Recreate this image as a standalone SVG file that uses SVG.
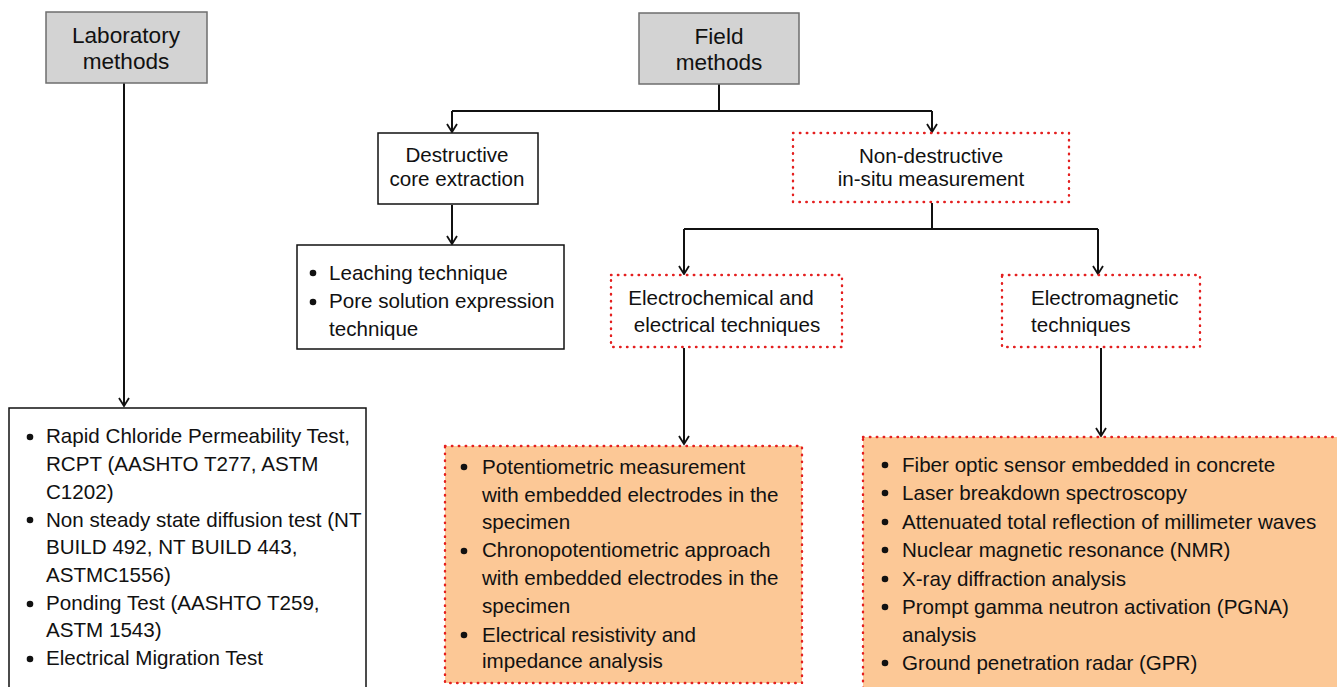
<svg xmlns="http://www.w3.org/2000/svg" width="1337" height="687" viewBox="0 0 1337 687">
<style>
text{font-family:"Liberation Sans",Arial,sans-serif;fill:#111}
.hd{font-size:22.6px;text-anchor:middle}
.nd{font-size:20.6px;text-anchor:middle}
.li{font-size:20.6px}
.grey{fill:#d3d3d3;stroke:#6e6e6e;stroke-width:1.5}
.solid{fill:#fff;stroke:#111;stroke-width:1.5}
.dot{fill:#fff;stroke:#e41f1f;stroke-width:2.4;stroke-dasharray:0.5 6.4;stroke-linecap:round}
.org{fill:#fcc896;stroke:#e41f1f;stroke-width:2.4;stroke-dasharray:0.5 6.4;stroke-linecap:round}
.con{fill:none;stroke:#111;stroke-width:2}
.b{fill:#111}
</style>
<defs>
<marker id="ah" viewBox="0 0 12 12" refX="10" refY="6" markerWidth="12" markerHeight="12" markerUnits="userSpaceOnUse" orient="auto">
<polyline points="2,1 10,6 2,11" fill="none" stroke="#111" stroke-width="1.8"/>
</marker>
</defs>
<rect width="1337" height="687" fill="#fff"/>
<g id="connectors">
<path class="con" d="M124,83 V406" marker-end="url(#ah)"/>
<path class="con" d="M719,84 V111"/>
<path class="con" d="M452,111 H932"/>
<path class="con" d="M452,111 V132" marker-end="url(#ah)"/>
<path class="con" d="M932,111 V132" marker-end="url(#ah)"/>
<path class="con" d="M452,205 V244" marker-end="url(#ah)"/>
<path class="con" d="M932,203 V229"/>
<path class="con" d="M684,229 H1098"/>
<path class="con" d="M684,229 V274" marker-end="url(#ah)"/>
<path class="con" d="M1098,229 V274" marker-end="url(#ah)"/>
<path class="con" d="M684,348 V444" marker-end="url(#ah)"/>
<path class="con" d="M1101,348 V436" marker-end="url(#ah)"/>
</g>
<g id="lab">
<rect class="grey" x="46" y="12" width="161" height="71"/>
<text class="hd" x="126" y="43">Laboratory</text>
<text class="hd" x="126" y="69">methods</text>
</g>
<g id="field">
<rect class="grey" x="639" y="13" width="160" height="71"/>
<text class="hd" x="719" y="44">Field</text>
<text class="hd" x="719" y="70">methods</text>
</g>
<g id="destructive">
<rect class="solid" x="378" y="133" width="160" height="71"/>
<text class="nd" x="457" y="162">Destructive</text>
<text class="nd" x="457" y="186">core extraction</text>
</g>
<g id="nondestructive">
<rect class="dot" x="793" y="133" width="276" height="69"/>
<text class="nd" x="931" y="163">Non-destructive</text>
<text class="nd" x="931" y="186">in-situ measurement</text>
</g>
<g id="leaching">
<rect class="solid" x="297" y="245" width="267" height="104"/>
<circle class="b" cx="313" cy="273" r="3.3"/>
<circle class="b" cx="313" cy="302" r="3.3"/>
<text class="li" x="329" y="280">Leaching technique</text>
<text class="li" x="329" y="308">Pore solution expression</text>
<text class="li" x="329" y="336">technique</text>
</g>
<g id="electrochemical">
<rect class="dot" x="611" y="275" width="231" height="72"/>
<text class="nd" x="721" y="305">Electrochemical and</text>
<text class="nd" x="727" y="332">electrical techniques</text>
</g>
<g id="electromagnetic">
<rect class="dot" x="1002" y="275" width="198" height="72"/>
<text class="nd" x="1031" y="305" style="text-anchor:start">Electromagnetic</text>
<text class="nd" x="1031" y="332" style="text-anchor:start">techniques</text>
</g>
<g id="labtests">
<rect class="solid" x="9" y="408" width="357" height="290"/>
<circle class="b" cx="30" cy="437" r="3.3"/>
<circle class="b" cx="30" cy="520" r="3.3"/>
<circle class="b" cx="30" cy="604" r="3.3"/>
<circle class="b" cx="30" cy="659" r="3.3"/>
<text class="li" x="46" y="443">Rapid Chloride Permeability Test,</text>
<text class="li" x="46" y="471">RCPT (AASHTO T277, ASTM</text>
<text class="li" x="46" y="499">C1202)</text>
<text class="li" x="46" y="527">Non steady state diffusion test (NT</text>
<text class="li" x="46" y="554">BUILD 492, NT BUILD 443,</text>
<text class="li" x="46" y="582">ASTMC1556)</text>
<text class="li" x="46" y="610">Ponding Test (AASHTO T259,</text>
<text class="li" x="46" y="637">ASTM 1543)</text>
<text class="li" x="46" y="665">Electrical Migration Test</text>
</g>
<g id="echemlist">
<rect class="org" x="445" y="446" width="357" height="237"/>
<circle class="b" cx="464" cy="467" r="3.3"/>
<circle class="b" cx="464" cy="551" r="3.3"/>
<circle class="b" cx="464" cy="635" r="3.3"/>
<text class="li" x="482" y="474">Potentiometric measurement</text>
<text class="li" x="482" y="502">with embedded electrodes in the</text>
<text class="li" x="482" y="529">specimen</text>
<text class="li" x="482" y="557">Chronopotentiometric approach</text>
<text class="li" x="482" y="585">with embedded electrodes in the</text>
<text class="li" x="482" y="613">specimen</text>
<text class="li" x="482" y="642">Electrical resistivity and</text>
<text class="li" x="482" y="668">impedance analysis</text>
</g>
<g id="emaglist">
<rect class="org" x="863" y="437" width="490" height="260"/>
<circle class="b" cx="885" cy="465" r="3.3"/>
<circle class="b" cx="885" cy="493" r="3.3"/>
<circle class="b" cx="885" cy="522" r="3.3"/>
<circle class="b" cx="885" cy="550" r="3.3"/>
<circle class="b" cx="885" cy="579" r="3.3"/>
<circle class="b" cx="885" cy="607" r="3.3"/>
<circle class="b" cx="885" cy="663" r="3.3"/>
<text class="li" x="902" y="472">Fiber optic sensor embedded in concrete</text>
<text class="li" x="902" y="500">Laser breakdown spectroscopy</text>
<text class="li" x="902" y="529">Attenuated total reflection of millimeter waves</text>
<text class="li" x="902" y="557">Nuclear magnetic resonance (NMR)</text>
<text class="li" x="902" y="586">X-ray diffraction analysis</text>
<text class="li" x="902" y="614">Prompt gamma neutron activation (PGNA)</text>
<text class="li" x="902" y="642">analysis</text>
<text class="li" x="902" y="670">Ground penetration radar (GPR)</text>
</g>
</svg>
